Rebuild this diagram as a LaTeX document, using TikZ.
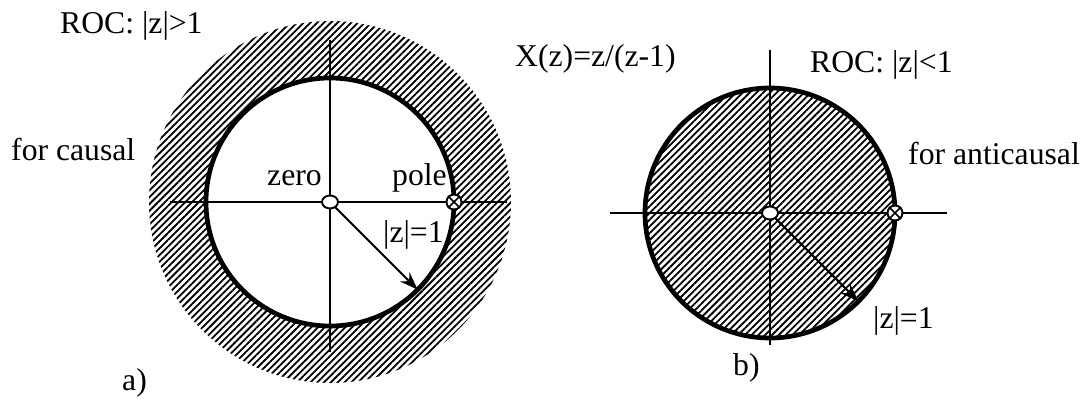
\documentclass[tikz,border=0pt]{standalone}
\usepackage{fontspec}
\setmainfont{Liberation Serif}
\usetikzlibrary{arrows.meta,patterns.meta,shapes.geometric,calc}

\begin{document}
\begin{tikzpicture}[x=1pt,y=1pt,
	every node/.style={inner sep=0pt,font=\fontsize{31.7}{38}\selectfont},
	axis/.style={line width=2.1pt},
	unitcircle/.style={line width=4.7pt},
	hatch/.style={pattern={Lines[angle=45,distance=4.8pt,line width=1.8pt]}}]
				\useasboundingbox (0,0) rectangle (1086,401);
				% a) causal
				\coordinate (Oa) at (330,199);
				\fill[hatch] (Oa) circle (181);
				\draw[unitcircle,fill=white] (Oa) circle (124);
				\coordinate (Na) at (330,361);
				\coordinate (Sa) at (330,49);
				\coordinate (Wa) at (170,199);
				\coordinate (Ea) at (507,199);
				\coordinate (Ra) at ($(Oa)+(-45:124)$);
				% b) anticausal
				\coordinate (Ob) at (770,188);
				\draw[unitcircle,hatch] (Ob) circle (125);
				\coordinate (Nb) at (770,351);
				\coordinate (Sb) at (770,56);
				\coordinate (Wb) at (610,188);
				\coordinate (Eb) at (947,188);
				\coordinate (Rb) at ($(Ob)+(-45:125)$);
				\begin{scope}[every path/.style={axis}]
				\draw (Na) -- (Sa);
				\draw (Wa) -- (Ea);
				\draw (Nb) -- (Sb);
				\draw (Wb) -- (Eb);
				\end{scope}
				\begin{scope}[>={Stealth[length=18pt,width=13pt]}]
				\draw [->,axis] (Oa) -- (Ra);
				\draw [->,axis] (Ob) -- (Rb);
				\end{scope}
				\begin{scope}[every node/.style={draw,fill=white,line width=1.9pt,inner sep=0pt}]
				\node[ellipse,minimum width=16pt,minimum height=13pt] (zeroa) at (Oa) {};
				\node[circle,minimum size=15pt] (polea) at (454,199) {};
				\node[ellipse,minimum width=16pt,minimum height=13pt] (zerob) at (Ob) {};
				\node[circle,minimum size=15pt] (poleb) at (895,188) {};
				\end{scope}
				\draw[line width=1.6pt] (polea.north east) -- (polea.south west)
				(polea.north west) -- (polea.south east);
				\draw[line width=1.6pt] (poleb.north east) -- (poleb.south west)
				(poleb.north west) -- (poleb.south east);
				% labels
				\node[anchor=base west] (roca) at (60,367) {ROC: |z|>1};
				\node[anchor=base west] (causal) at (11,240) {for causal};
				\node[anchor=base west] (la) at (122,10) {a)};
				\node[anchor=base west] (zlab) at (267,215) {zero};
				\node[anchor=base west] (plab) at (392,215) {pole};
				\node[anchor=base west] (ra) at (383,158) {|z|=1};
				\node[anchor=base west] (xz) at (515,334) {X(z)=z/(z-1)};
				\node[anchor=base west] (rocb) at (810,328) {ROC: |z|<1};
				\node[anchor=base west] (anticausal) at (908,236) {for anticausal};
				\node[anchor=base west] (rb) at (873,72) {|z|=1};
				\node[anchor=base west] (lb) at (733,25) {b)};
\end{tikzpicture}
\end{document}
